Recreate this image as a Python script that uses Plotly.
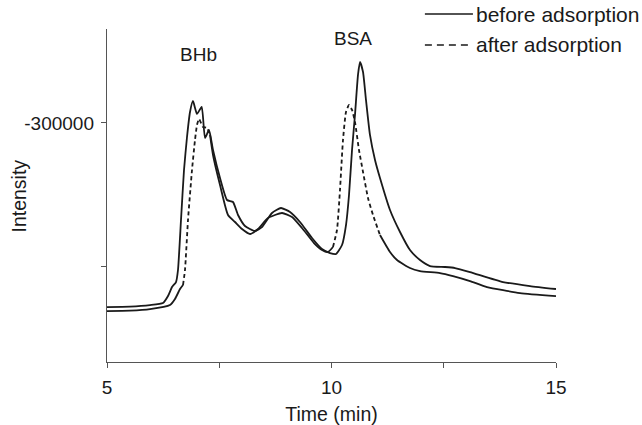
import plotly.graph_objects as go

# Time (min) and intensity (arbitrary units)
time_before = [5.0, 5.512, 5.958, 6.247, 6.359, 6.448, 6.537, 6.581, 6.648, 6.715, 6.782, 6.849,
               6.915, 7.004, 7.109, 7.183, 7.272, 7.361, 7.517, 7.673, 7.806, 7.918, 8.073, 8.296,
               8.452, 8.675, 8.875, 9.076, 9.298, 9.566, 9.788, 9.967, 10.100, 10.234, 10.323,
               10.390, 10.457, 10.523, 10.590, 10.635, 10.702, 10.768, 10.857, 10.969, 11.080,
               11.303, 11.526, 11.748, 11.971, 12.194, 12.528, 12.751, 13.085, 13.820, 14.421, 15.0]
int_before = [171329, 171678, 172727, 174126, 179021, 185315, 188811, 197203, 232168, 267133,
              290210, 307692, 315385, 306294, 311189, 289510, 295105, 281119, 261538, 246154,
              244755, 235664, 227972, 224476, 227273, 237063, 240559, 237762, 230769, 219580,
              211888, 209091, 208392, 214685, 228671, 249650, 281119, 305594, 333566, 342657,
              335664, 316084, 291608, 274126, 261538, 239161, 223776, 211189, 204196, 200000,
              199301, 198601, 195804, 188811, 186014, 183916]

time_after = [5.0, 5.512, 5.958, 6.403, 6.514, 6.626, 6.693, 6.737, 6.804, 6.893, 6.960, 7.004,
              7.049, 7.138, 7.227, 7.294, 7.361, 7.517, 7.695, 7.851, 8.007, 8.185, 8.363, 8.586,
              8.898, 9.120, 9.343, 9.610, 9.788, 9.922, 10.033, 10.122, 10.189, 10.256, 10.323,
              10.390, 10.457, 10.523, 10.612, 10.702, 10.813, 10.924, 11.080, 11.303, 11.459,
              11.748, 11.971, 12.416, 12.706, 13.085, 13.463, 14.198, 15.0]
int_after = [168531, 168881, 169930, 172727, 176923, 183916, 186713, 197203, 232168, 267133,
             288112, 298601, 302797, 297203, 296503, 291608, 277622, 256643, 235664, 230769,
             225874, 222378, 225874, 233566, 237063, 234266, 226573, 216084, 211189, 209790,
             213287, 225175, 253147, 288112, 307692, 312587, 309091, 300699, 281119, 265734,
             247552, 235664, 221678, 209790, 204196, 198601, 196503, 195105, 193007, 189510,
             185315, 181119, 179021]

# x ranges where the "after" trace is drawn dashed in the original figure
dash_ranges = [(6.70, 7.25), (10.05, 10.95)]

x_ticks = [5, 7.5, 10, 12.5, 15]
x_ticktext = ["5", "", "10", "", "15"]
y_ticks = [200000, 300000]
y_ticktext = ["", "-300000"]

series_names = ["before adsorption", "after adsorption"]

FONT = "Liberation Sans, Arial, sans-serif"
INK = "#1a1a1a"
AXIS = "#555555"


def in_dash(t):
    return any(a <= t <= b for a, b in dash_ranges)


def near_dash(i, ts):
    return any(in_dash(ts[j]) for j in range(max(0, i - 1), min(len(ts), i + 2)))


after_dashed = [v if near_dash(i, time_after) else None for i, v in enumerate(int_after)]
after_solid = [v if not in_dash(t) else None for t, v in zip(time_after, int_after)]

line_kw = dict(color=INK, width=1.8, shape="spline", smoothing=0.5)

fig = go.Figure()
fig.add_trace(go.Scatter(x=time_before, y=int_before, mode="lines", name=series_names[0],
                         line=line_kw, showlegend=False))
fig.add_trace(go.Scatter(x=time_after, y=after_dashed, mode="lines", name=series_names[1],
                         line=dict(line_kw, dash="4px,3px"), connectgaps=False, showlegend=False))
fig.add_trace(go.Scatter(x=time_after, y=after_solid, mode="lines", name=series_names[1],
                         line=line_kw, connectgaps=False, showlegend=False))

# peak labels
fig.add_annotation(x=7.04, y=347900, text="BHb", showarrow=False, xref="x", yref="y",
                   font=dict(family=FONT, size=19, color=INK))
fig.add_annotation(x=10.47, y=359400, text="BSA", showarrow=False, xref="x", yref="y",
                   font=dict(family=FONT, size=19, color=INK))

# y-axis title
fig.add_annotation(x=-0.196, y=0.5, xref="paper", yref="paper", text="Intensity",
                   textangle=-90, showarrow=False, xanchor="center", yanchor="middle",
                   font=dict(family=FONT, size=19.5, color=INK))

# legend drawn in paper coordinates (top right, above plot area)
legend_rows = [(1.045, "solid"), (0.952, "7px,5px")]
for (yy, dash), name in zip(legend_rows, series_names):
    fig.add_shape(type="line", xref="paper", yref="paper", x0=0.708, x1=0.815, y0=yy, y1=yy,
                  line=dict(color=INK, width=1.3, dash=dash))
    fig.add_annotation(x=0.818, y=yy, xref="paper", yref="paper", text=name, showarrow=False,
                       xanchor="left", yanchor="middle",
                       font=dict(family=FONT, size=21, color=INK))

fig.update_layout(
    width=642, height=425,
    margin=dict(l=107, r=86, t=29, b=63, autoexpand=False),
    paper_bgcolor="white", plot_bgcolor="white",
    font=dict(family=FONT, size=19, color=INK),
    showlegend=False,
    xaxis=dict(range=[5, 15], tickvals=x_ticks, ticktext=x_ticktext, ticks="outside",
               ticklen=5, tickwidth=1.2, tickcolor=AXIS, showline=True, linecolor=AXIS,
               linewidth=1.4, showgrid=False, zeroline=False, ticklabelstandoff=3,
               automargin=False,
               title=dict(text="Time (min)", font=dict(size=19.5)),
               tickfont=dict(size=19)),
    yaxis=dict(range=[132900, 365700], tickvals=y_ticks, ticktext=y_ticktext, ticks="outside",
               ticklen=5, tickwidth=1.2, tickcolor=AXIS, showline=True, linecolor=AXIS,
               linewidth=1.4, showgrid=False, zeroline=False, ticklabelstandoff=3,
               automargin=False, tickfont=dict(size=19)),
)

fig.write_html("out.html")
